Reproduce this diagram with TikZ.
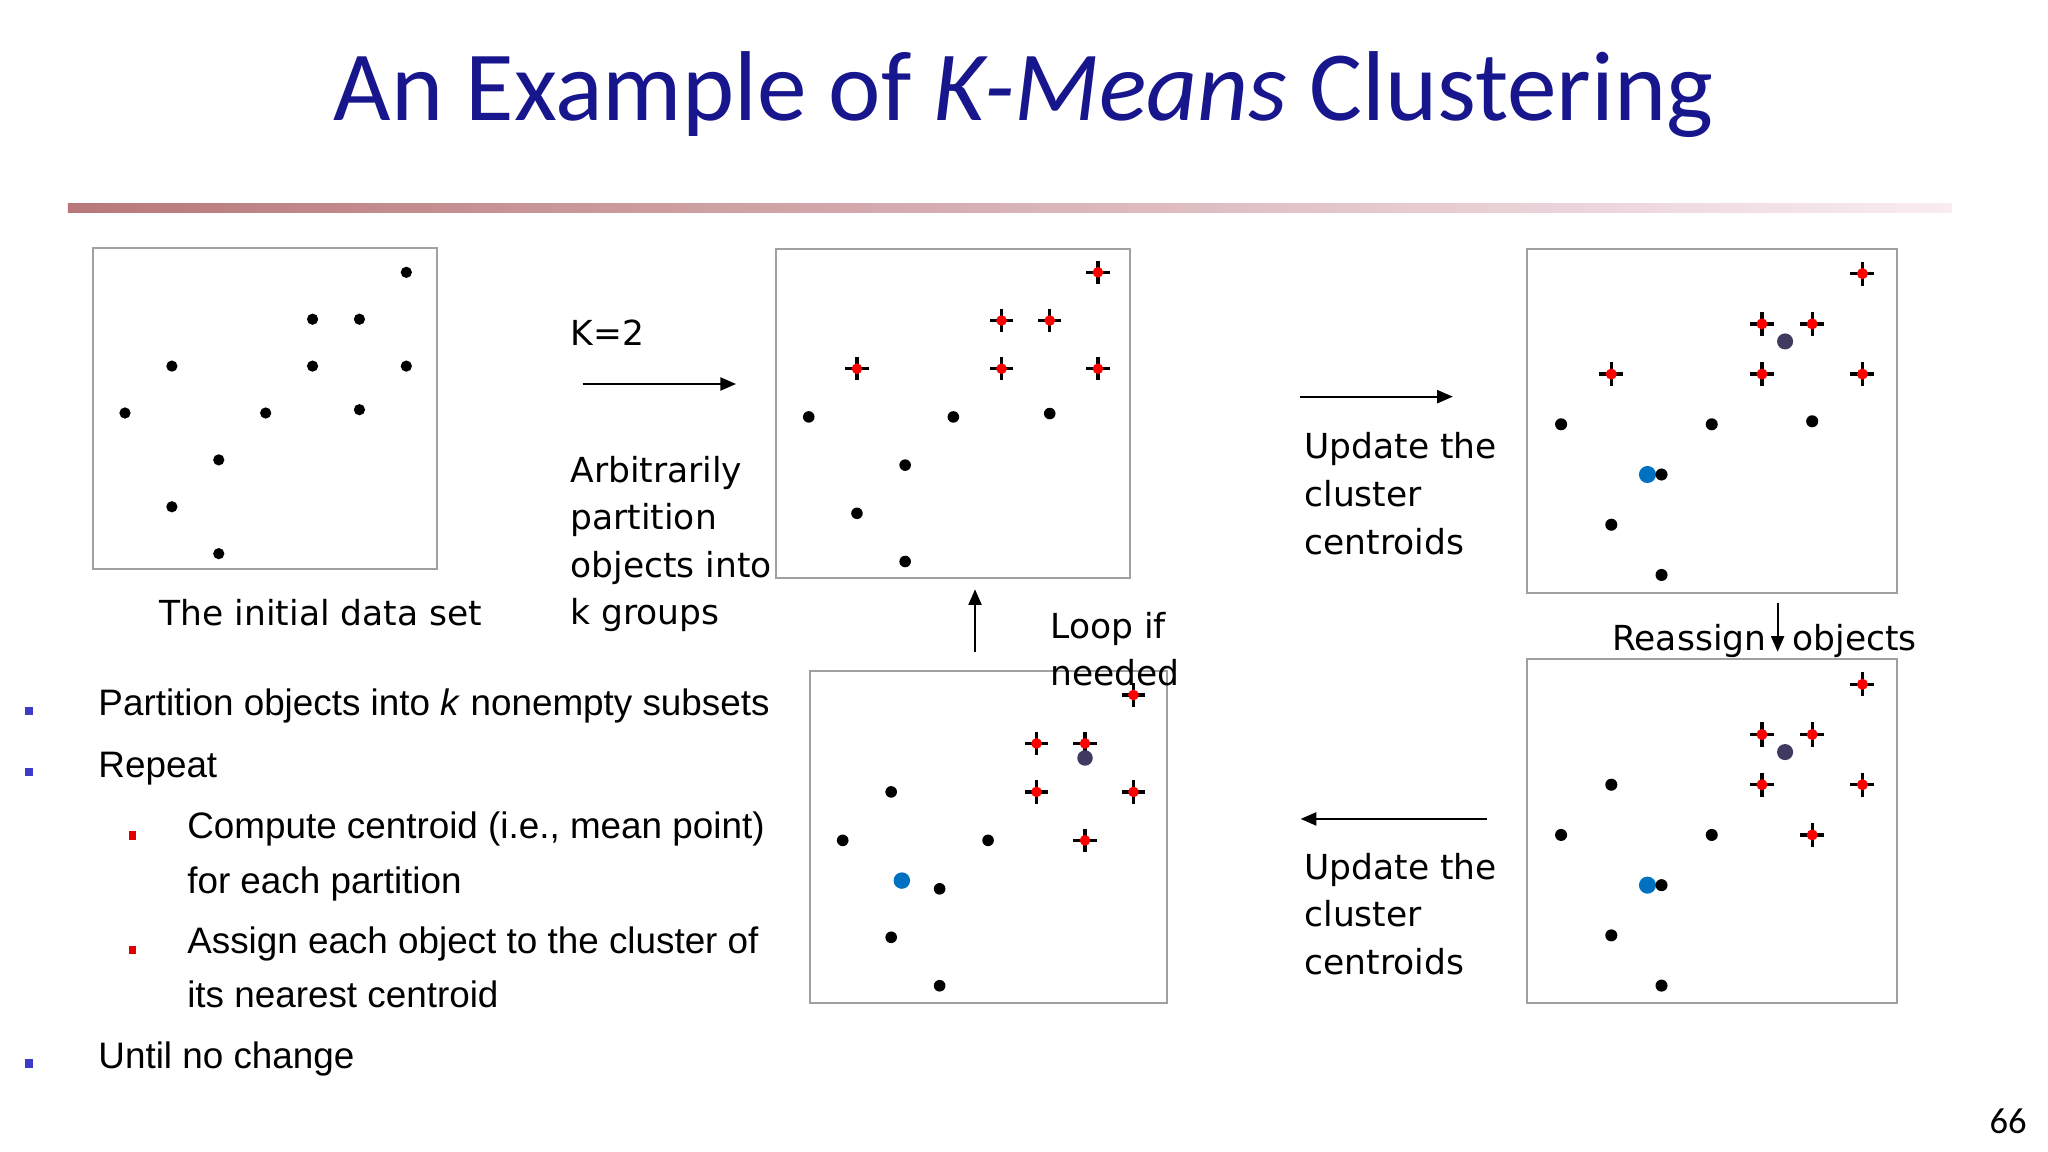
\documentclass[tikz,border=0pt]{standalone}
\usepackage{fontspec}
\setmainfont{Liberation Sans}
\newfontfamily\lblfont{DejaVu Sans}
\newfontfamily\titlefont{Carlito}
\usetikzlibrary{arrows.meta}
\definecolor{titleblue}{RGB}{24,22,140}
\definecolor{boxgray}{RGB}{160,160,160}
\definecolor{bulblue}{RGB}{60,60,200}
\definecolor{bulred}{RGB}{225,0,0}
\definecolor{cblue}{RGB}{0,112,192}
\definecolor{cpurple}{RGB}{64,58,96}
\definecolor{rulel}{RGB}{184,120,122}
\definecolor{rulem}{RGB}{218,178,186}
\definecolor{ruler}{RGB}{248,236,242}
\tikzset{
  lbl/.style={font=\lblfont\fontsize{13.2}{18.2}\selectfont, anchor=base west, inner sep=0pt, align=left},
  bul/.style={font=\fontsize{14.1}{16}\selectfont, anchor=base west, inner sep=0pt},
  arr/.style={line width=0.78pt, -{Triangle[length=6pt,width=5pt]}},
  panelbox/.style={draw=boxgray, line width=0.75pt},
  panel/.style n args={3}{shift={(#1,#2)}, x=#3, y=-#3},
  crossarm/.style={line width=1.3pt, black},
}
\newcommand\kmdots[1]{\foreach \a/\b in {#1}{\fill[black] (\a,\b) circle[radius=0.12];}}
\newcommand\kmcross[1]{\foreach \a/\b in {#1}{\draw[crossarm] (\a-0.24,\b) -- (\a+0.24,\b) (\a,\b-0.24) -- (\a,\b+0.24); \fill[red] (\a,\b) circle[radius=0.11];}}
\begin{document}
\begin{tikzpicture}[x=0.5pt,y=-0.5pt]
\useasboundingbox (0,0) rectangle (1568,882);
\fill[white] (0,0) rectangle (1568,882);

% title and rule
\node[anchor=base, inner sep=0pt, text=titleblue, font=\titlefont\fontsize{38}{40}\selectfont] (title) at (783.5,92) {An Example of \textit{K-Means} Clustering};
\shade[left color=rulel, middle color=rulem, right color=ruler] (52,156) rectangle (1494,162.5);

% panel 1
\begin{scope}[panel={95.7}{208.5}{17.95pt}]
  \draw[panelbox] (-0.674,-0.515) rectangle (6.66,6.33);
  \kmdots{6/0,4/1,5/1,1/2,4/2,6/2,0/3,3/3,5/2.93,2/4,1/5,2/6}
\end{scope}
% panel 2
\begin{scope}[panel={619.2}{208.5}{18.45pt}]
  \draw[panelbox] (-0.686,-0.485) rectangle (6.67,6.35);
  \kmcross{6/0,4/1,5/1,1/2,4/2,6/2}
  \kmdots{0/3,3/3,5/2.93,2/4,1/5,2/6}
\end{scope}
% panel 3
\begin{scope}[panel={1195.2}{209.5}{19.225pt}]
  \draw[panelbox] (-0.67,-0.49) rectangle (6.68,6.35);
  \kmcross{6/0,4/1,5/1,1/2,4/2,6/2}
  \fill[cblue] (1.72,4.0) circle[radius=0.17];
  \kmdots{0/3,3/3,5/2.94,2/4,1/5,2/6}
  \fill[cpurple] (4.46,1.35) circle[radius=0.16];
\end{scope}
% panel 4
\begin{scope}[panel={645.2}{532.1}{18.55pt}]
  \draw[panelbox] (-0.674,-0.49) rectangle (6.69,6.35);
  \kmcross{6/0,4/1,5/1,4/2,6/2,5/3}
  \fill[cblue] (1.22,3.83) circle[radius=0.17];
  \kmdots{1/2,0/3,3/3,2/4,1/5,2/6}
  \fill[cpurple] (5.0,1.3) circle[radius=0.16];
\end{scope}
% panel 5
\begin{scope}[panel={1195.2}{523.9}{19.225pt}]
  \draw[panelbox] (-0.67,-0.497) rectangle (6.68,6.35);
  \kmcross{6/0,4/1,5/1,4/2,6/2,5/3}
  \fill[cblue] (1.72,4.0) circle[radius=0.17];
  \kmdots{1/2,0/3,3/3,2/4,1/5,2/6}
  \fill[cpurple] (4.46,1.35) circle[radius=0.16];
\end{scope}

% labels (base anchor = last line of multi-line nodes)
\node[lbl] (initial) at (122,479) {The initial data set};
\node[lbl] (k2) at (436.4,264.7) {K=2};
\node[lbl] (arb) at (436.4,478.5) {Arbitrarily\\partition\\objects into\\k groups};
\node[lbl] (upd1) at (998.4,424.2) {Update the\\cluster\\centroids};
\node[lbl] (loop) at (803.9,525) {Loop if\\needed};
\node[lbl] (reas) at (1234,498.4) {Reassign};
\node[lbl] (objs) at (1372,498.4) {objects};
\node[lbl] (upd2) at (998.4,746) {Update the\\cluster\\centroids};
\node[anchor=base east, inner sep=0pt, font=\titlefont\fontsize{14}{16}\selectfont] (pagenum) at (1552,868) {66};

% arrows
\coordinate (a1s) at (446.1,294); \coordinate (a1e) at (563.5,294);
\coordinate (a2s) at (995.3,303.7); \coordinate (a2e) at (1112.3,303.7);
\coordinate (a3s) at (746.5,499); \coordinate (a3e) at (746.5,451.2);
\coordinate (a4s) at (1361,461.4); \coordinate (a4e) at (1361,499);
\coordinate (a5s) at (1138.3,627); \coordinate (a5e) at (995.8,627);
\draw[arr] (a1s) -- (a1e);
\draw[arr] (a2s) -- (a2e);
\draw[arr] (a3s) -- (a3e);
\draw[arr] (a4s) -- (a4e);
\draw[arr] (a5s) -- (a5e);

% bullet list
\fill[bulblue] (19.5,541) rectangle (25,547.5);
\fill[bulblue] (19.5,588) rectangle (25,594.5);
\fill[bulblue] (19.5,811) rectangle (25,817.5);
\fill[bulred] (98.5,636.5) rectangle (104,643);
\fill[bulred] (98.5,724) rectangle (104,730.5);
\node[bul] (b1) at (75,548) {Partition objects into \textit{k} nonempty subsets};
\node[bul] (b2) at (75,595) {Repeat};
\node[bul] (b3) at (143,642) {Compute centroid (i.e., mean point)};
\node[bul] (b3b) at (143,684) {for each partition};
\node[bul] (b4) at (143,730) {Assign each object to the cluster of};
\node[bul] (b4b) at (143,771) {its nearest centroid};
\node[bul] (b5) at (75,818) {Until no change};
\end{tikzpicture}
\end{document}
